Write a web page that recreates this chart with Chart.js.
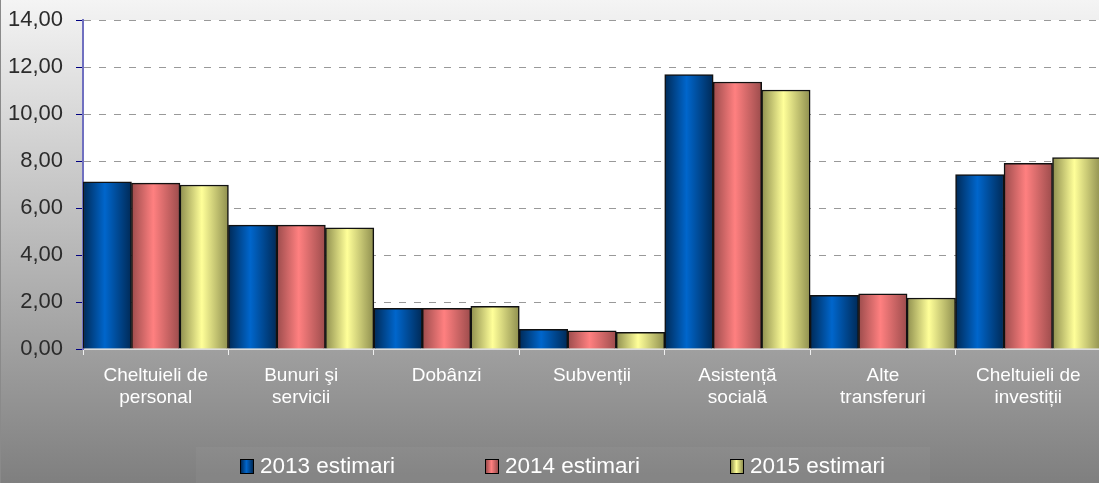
<!DOCTYPE html>
<html>
<head>
<meta charset="utf-8">
<script src="https://cdn.jsdelivr.net/npm/chart.js@4"></script>
<style>
  html, body { margin: 0; padding: 0; overflow: hidden; }
  #wrap {
    position: relative; width: 1101px; height: 483px;
    background: linear-gradient(#f4f4f4, #7f7f7f);
    font-family: "Liberation Sans", Arial, sans-serif;
  }
  #wrap:before { content: ''; position: absolute; left: 0; top: 0; bottom: 0; width: 1px; background: #8a8a8a; }
  #legendBox { position: absolute; left: 196px; top: 447px; width: 734px; height: 36px; background: rgba(255,255,255,0.04); }
  #legend { position: absolute; left: 240px; top: 453px; display: flex; }
  #legend .item { display: flex; align-items: center; width: 245px; color: #fff; font-size: 22.5px; line-height: 26px; }
  #legend .sw { width: 12px; height: 13px; border: 1px solid #000; margin-right: 6px; }
</style>
</head>
<body>
<div id="wrap">
  <div id="legendBox"></div>
  <canvas id="chart"></canvas>
  <div id="legend"></div>
</div>
<script>
'use strict';

const categories = [
  ['Cheltuieli de', 'personal'],
  ['Bunuri şi', 'servicii'],
  ['Dobânzi'],
  ['Subvenții'],
  ['Asistență', 'socială'],
  ['Alte', 'transferuri'],
  ['Cheltuieli de', 'investiții']
];
const seriesNames = ['2013 estimari', '2014 estimari', '2015 estimari'];
const v2013 = [7.11, 5.27, 1.73, 0.84, 11.68, 2.28, 7.42];
const v2014 = [7.06, 5.27, 1.73, 0.77, 11.36, 2.35, 7.90];
const v2015 = [6.98, 5.16, 1.82, 0.71, 11.02, 2.17, 8.15];
const yTicks = [0, 2, 4, 6, 8, 10, 12, 14];

// dark edge, bright middle, for each series
const shades = [
  ['#002a57', '#0066cc'],
  ['#9c4c4c', '#ff8080'],
  ['#8f8f4f', '#ffff99']
];

function barFill(i) {
  return (ctx) => {
    const chart = ctx.chart;
    const x = chart.scales.x;
    if (!chart.chartArea || !x || ctx.type !== 'data') return shades[i][1];
    const catW = x.width / categories.length;
    const barW = catW / 3;
    const left = x.getPixelForValue(ctx.dataIndex) - catW / 2 + i * barW;
    const g = chart.ctx.createLinearGradient(left, 0, left + barW, 0);
    g.addColorStop(0, shades[i][0]);
    g.addColorStop(0.45, shades[i][1]);
    g.addColorStop(1, shades[i][0]);
    return g;
  };
}

const plotBg = {
  id: 'plotBg',
  beforeDraw(chart) {
    const a = chart.chartArea;
    chart.ctx.save();
    chart.ctx.fillStyle = '#fff';
    chart.ctx.fillRect(a.left, a.top, a.right - a.left, a.bottom - a.top);
    chart.ctx.restore();
  }
};

const values = [v2013, v2014, v2015];
new Chart(document.getElementById('chart'), {
  type: 'bar',
  data: {
    labels: categories,
    datasets: values.map((d, i) => ({
      label: seriesNames[i], data: d,
      backgroundColor: barFill(i), borderColor: '#111', borderWidth: 1.5,
      categoryPercentage: 1, barPercentage: 1
    }))
  },
  options: {
    responsive: true, maintainAspectRatio: false, animation: false,
    layout: { padding: { top: 20, right: 0, left: 0, bottom: 0 } },
    plugins: { legend: { display: false }, tooltip: { enabled: false } },
    scales: {
      x: {
        afterFit: (s) => { s.height = 134; s.paddingLeft = 0; s.paddingRight = 0; },
        grid: { drawOnChartArea: false, tickLength: 6, tickColor: '#f0f0f0', tickWidth: 1 },
        border: { color: '#dcdcdc', width: 2 },
        ticks: { color: '#fff', font: { family: 'Liberation Sans', size: 19 }, padding: 9, maxRotation: 0, autoSkip: false }
      },
      y: {
        min: 0, max: 14,
        afterFit: (s) => { s.width = 83; s.paddingTop = 0; s.paddingBottom = 0; },
        afterBuildTicks: (s) => { s.ticks = yTicks.map(v => ({ value: v })); },
        grid: { color: '#999', tickBorderDash: [], tickColor: '#000080', tickLength: 7 },
        border: { color: '#7070c0', width: 2, dash: [7, 8] },
        ticks: {
          color: '#2b2b2b', font: { family: 'Liberation Sans', size: 22 }, padding: 13,
          callback: (v) => v.toFixed(2).replace('.', ',')
        }
      }
    }
  },
  plugins: [plotBg]
});

const legend = document.getElementById('legend');
seriesNames.forEach((name, i) => {
  const item = document.createElement('div');
  item.className = 'item';
  const sw = document.createElement('span');
  sw.className = 'sw';
  sw.style.background = `linear-gradient(90deg, ${shades[i][0]}, ${shades[i][1]} 45%, ${shades[i][0]})`;
  const t = document.createElement('span');
  t.textContent = name;
  item.appendChild(sw);
  item.appendChild(t);
  legend.appendChild(item);
});
</script>
</body>
</html>
